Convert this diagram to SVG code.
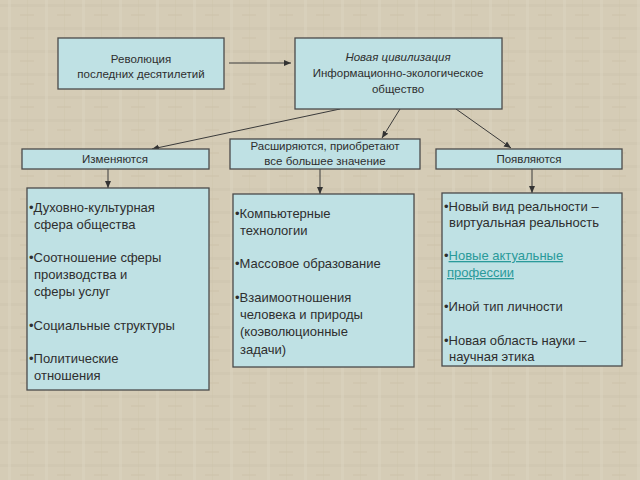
<svg xmlns="http://www.w3.org/2000/svg" width="640" height="480" viewBox="0 0 640 480">
<defs>
<pattern id="paper" width="37" height="23" patternUnits="userSpaceOnUse">
<rect width="37" height="23" fill="#d5ccb6"/>
<rect x="0" y="4" width="37" height="3" fill="#cec4ad" opacity="0.5"/>
<rect x="8" y="0" width="3" height="23" fill="#dcd3bf" opacity="0.5"/>
<rect x="20" y="14" width="14" height="2" fill="#cbc0a8" opacity="0.4"/>
<rect x="27" y="0" width="1" height="23" fill="#ccc1a9" opacity="0.35"/>
</pattern>
<marker id="arr" markerWidth="8" markerHeight="8" refX="7" refY="4" orient="auto" markerUnits="userSpaceOnUse">
<path d="M0,1 L7,4 L0,7 Z" fill="#333"/>
</marker>
<style>
.box{fill:#bfe1e4;stroke:#4a4a4a;stroke-width:1.3}
.t{font-family:"Liberation Sans",Arial,sans-serif;fill:#2e2e2e}
.s{font-size:11.5px;text-anchor:middle}
.b{font-size:13px}
.conn{stroke:#3a3a3a;stroke-width:1;fill:none;marker-end:url(#arr)}
.link{fill:#2a9a9a;text-decoration:underline}
</style>
</defs>
<rect width="640" height="480" fill="url(#paper)"/>

<g id="connectors">
<line class="conn" x1="229" y1="63" x2="291" y2="63"/>
<line class="conn" x1="340" y1="109" x2="152" y2="149"/>
<line class="conn" x1="400" y1="109" x2="382" y2="138"/>
<line class="conn" x1="456" y1="109" x2="511" y2="148"/>
<line class="conn" x1="108" y1="169" x2="108" y2="188"/>
<line class="conn" x1="320" y1="169" x2="320" y2="194"/>
<line class="conn" x1="532" y1="169" x2="532" y2="193"/>
</g>

<g id="revolution">
<rect class="box" x="58" y="38" width="166" height="51"/>
<text class="t s" x="141" y="63">Революция</text>
<text class="t s" x="141" y="78">последних десятилетий</text>
</g>

<g id="civilization">
<rect class="box" x="295" y="38" width="207" height="71"/>
<text class="t s" x="398" y="61" font-style="italic">Новая цивилизация</text>
<text class="t s" x="398" y="77">Информационно-экологическое</text>
<text class="t s" x="398" y="93">общество</text>
</g>

<g id="change">
<rect class="box" x="22" y="149" width="187" height="20"/>
<text class="t s" x="115" y="163">Изменяются</text>
</g>

<g id="expand">
<rect class="box" x="230" y="139" width="190" height="30"/>
<text class="t s" x="325" y="150">Расширяются, приобретают</text>
<text class="t s" x="325" y="165">все большее значение</text>
</g>

<g id="appear">
<rect class="box" x="436" y="149" width="186" height="20"/>
<text class="t s" x="529" y="163">Появляются</text>
</g>

<g id="change-list">
<rect class="box" x="27" y="188" width="182" height="202"/>
<text class="t b" x="29" y="212">•Духовно-культурная</text>
<text class="t b" x="34" y="229">сфера общества</text>
<text class="t b" x="29" y="262">•Соотношение сферы</text>
<text class="t b" x="34" y="279">производства и</text>
<text class="t b" x="34" y="296">сферы услуг</text>
<text class="t b" x="29" y="330">•Социальные структуры</text>
<text class="t b" x="29" y="363">•Политические</text>
<text class="t b" x="34" y="380">отношения</text>
</g>

<g id="expand-list">
<rect class="box" x="233" y="194" width="181" height="173"/>
<text class="t b" x="235" y="218">•Компьютерные</text>
<text class="t b" x="240" y="235">технологии</text>
<text class="t b" x="235" y="268">•Массовое образование</text>
<text class="t b" x="235" y="302">•Взаимоотношения</text>
<text class="t b" x="240" y="319">человека и природы</text>
<text class="t b" x="240" y="336">(коэволюционные</text>
<text class="t b" x="240" y="354">задачи)</text>
</g>

<g id="appear-list">
<rect class="box" x="442" y="193" width="180" height="173"/>
<text class="t b" x="444" y="211">•Новый вид реальности –</text>
<text class="t b" x="449" y="227">виртуальная реальность</text>
<text class="t b" x="444" y="260">•<tspan class="link">Новые актуальные</tspan></text>
<text class="t b link" x="447" y="277">профессии</text>
<text class="t b" x="444" y="311">•Иной тип личности</text>
<text class="t b" x="444" y="345">•Новая область науки –</text>
<text class="t b" x="449" y="361">научная этика</text>
</g>
</svg>
